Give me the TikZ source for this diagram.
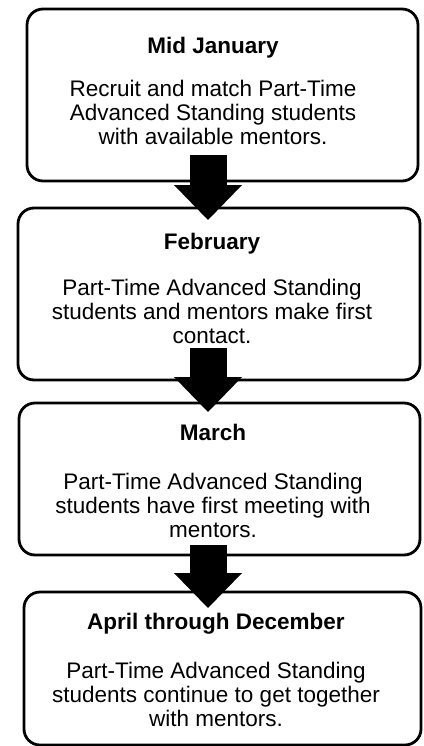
\documentclass[tikz,border=0pt]{standalone}
\usepackage{fontspec}
\setmainfont{Liberation Sans}
\usepackage{tikz}
\usetikzlibrary{
  arrows.meta,
  positioning,
  calc,
}
\tikzset{
  stepbox/.style={
    rectangle, rounded corners=16pt, draw=black, line width=2.8pt,
    fill=white, outer sep=0pt, inner sep=0pt,
  },
  steptext/.style={
    align=center, inner sep=0pt, font=\fontsize{22.5}{24}\selectfont,
  },
  arrowBlock/.style={
    -{Triangle[length=35pt,width=68pt,line width=0pt]}, line width=37pt,
    draw=black,
  },
}

\begin{document}
\begin{tikzpicture}
\useasboundingbox (0,0) rectangle (423pt,-746pt);

% Step boxes
\node[stepbox, minimum width=391pt, minimum height=172pt] (jan) at (222.5pt,-95pt) {};
\node[stepbox, minimum width=402pt, minimum height=172pt,
      below=27pt of jan, xshift=-3.5pt] (feb) {};
\node[stepbox, minimum width=401pt, minimum height=152pt,
      below=23pt of feb, xshift=0.5pt] (mar) {};
\node[stepbox, minimum width=397pt, minimum height=153pt,
      below=37pt of mar, xshift=3pt] (aprdec) {};

% Step texts
\node[steptext] (janText) at ([xshift=-9.5pt,yshift=4pt]jan.center) {%
  \textbf{Mid January}\\[19pt]Recruit and match Part-Time\\Advanced Standing students\\with available mentors.%
};
\node[steptext] (febText) at ([xshift=-7pt,yshift=6pt]feb.center) {%
  \textbf{February}\\[22pt]Part-Time Advanced Standing\\students and mentors make first\\contact.%
};
\node[steptext] (marText) at ([xshift=-6.5pt,yshift=-2pt]mar.center) {%
  \textbf{March}\\[25pt]Part-Time Advanced Standing\\students have first meeting with\\mentors.%
};
\node[steptext] (aprdecText) at ([xshift=-6.5pt,yshift=-1.5pt]aprdec.center) {%
  \textbf{April through December}\\[25pt]Part-Time Advanced Standing\\students continue to get together\\with mentors.%
};

% Flow arrows
\coordinate (spine) at (208pt,0);
\draw[arrowBlock] ($(spine |- jan.south)+(0,26pt)$) -- ($(spine |- feb.north)+(0,-12pt)$);
\draw[arrowBlock] ($(spine |- feb.south)+(0,32pt)$) -- ($(spine |- mar.north)+(0,-9pt)$);
\draw[arrowBlock] ($(spine |- mar.south)+(0,10pt)$) -- ($(spine |- aprdec.north)+(0,-16pt)$);

\end{tikzpicture}
\end{document}
